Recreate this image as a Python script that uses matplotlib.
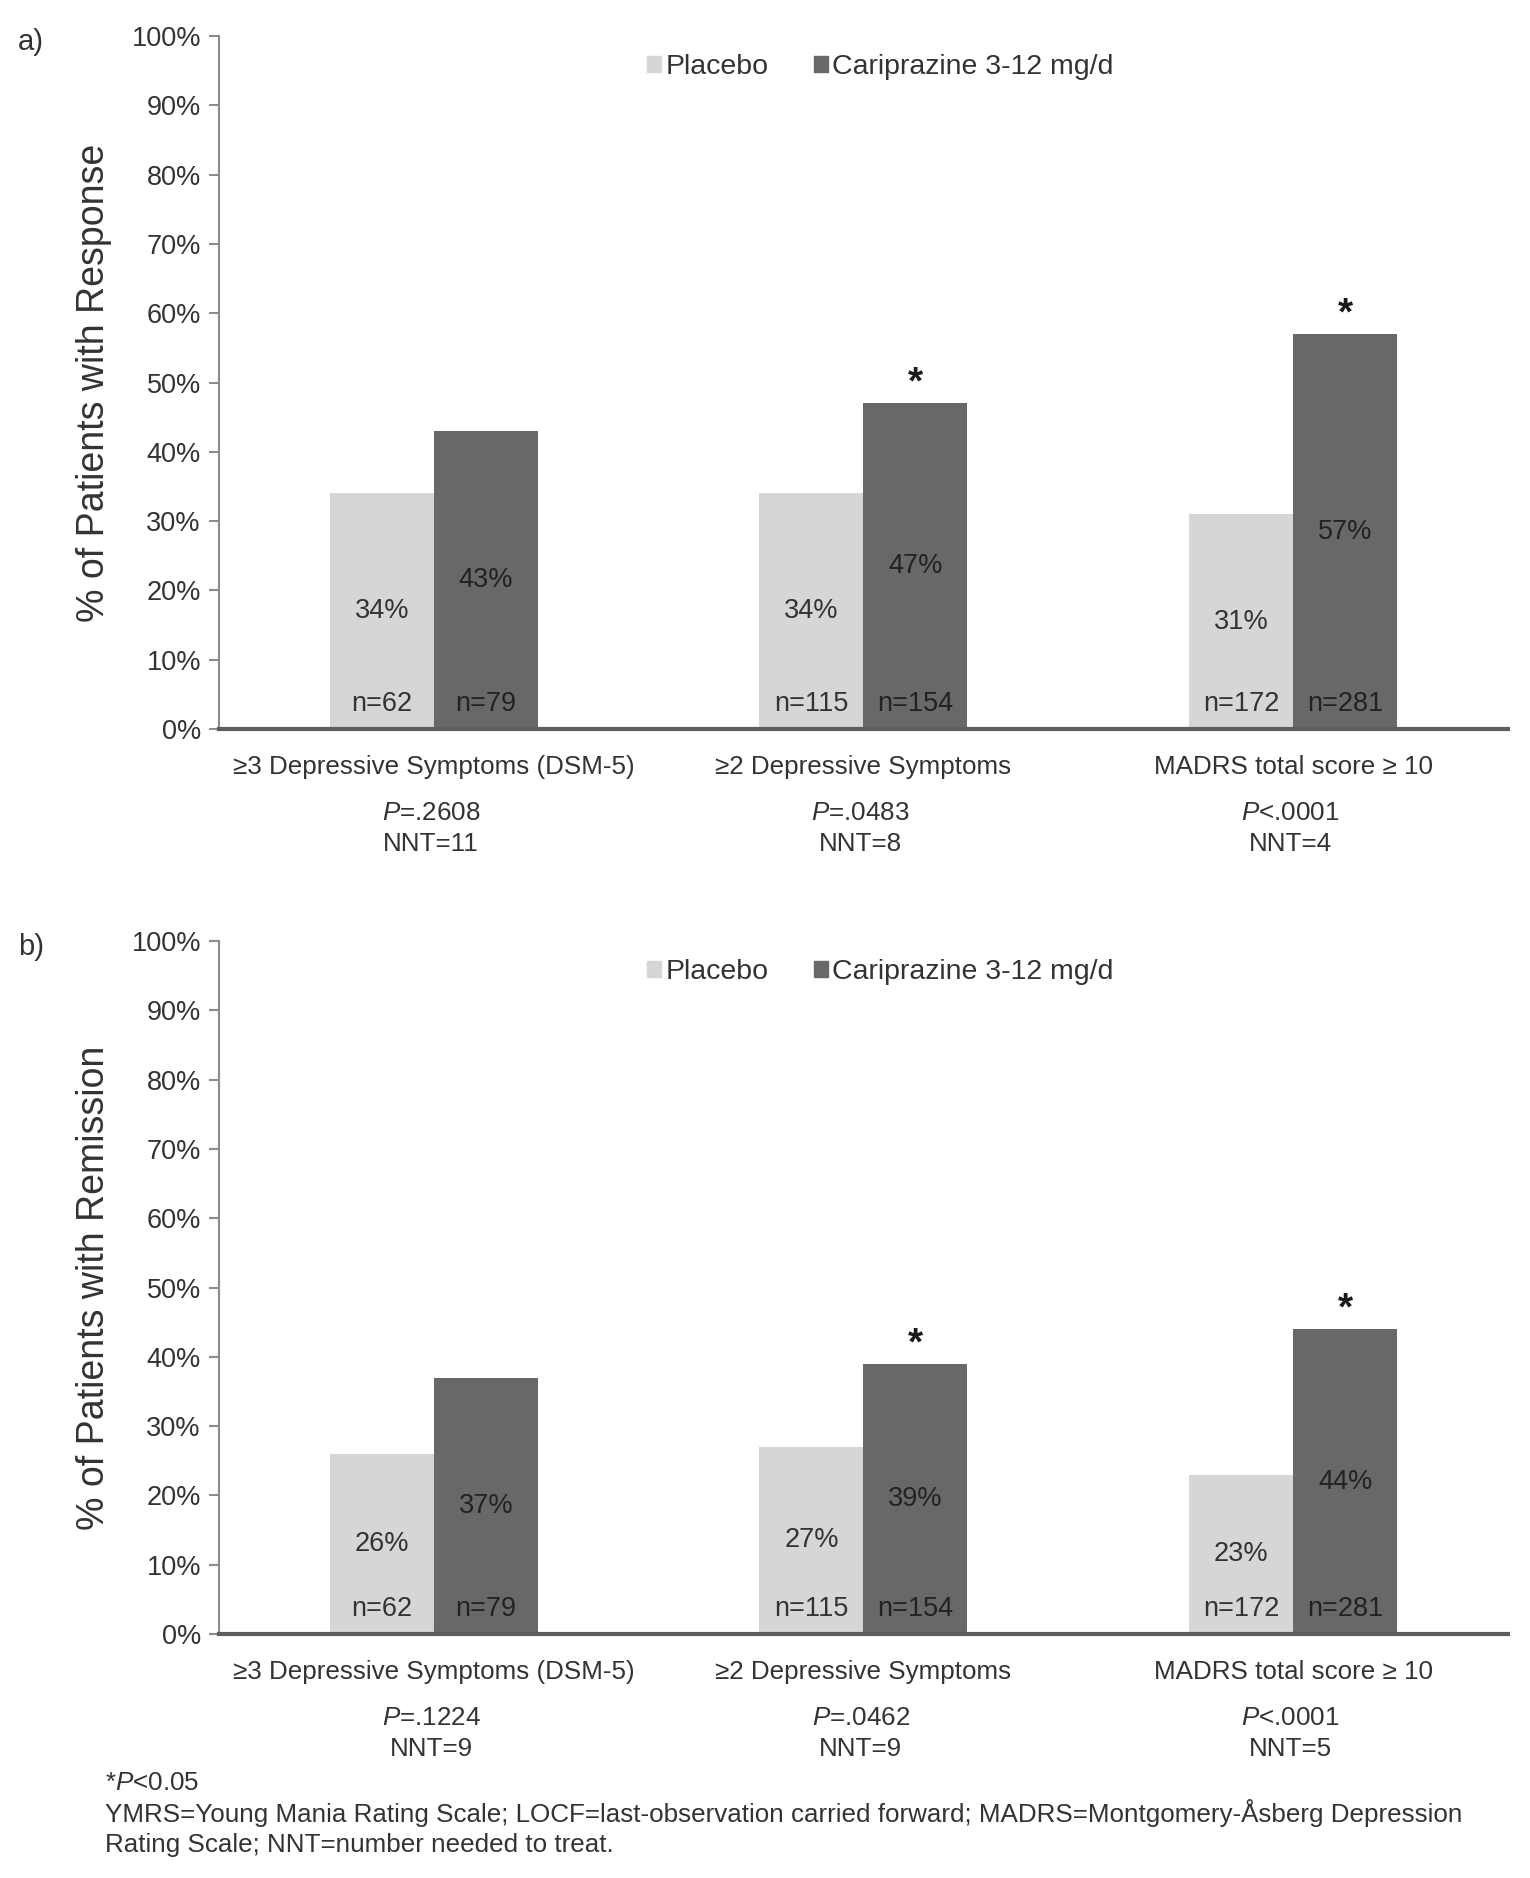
import matplotlib
matplotlib.use("Agg")
import matplotlib.pyplot as plt
from matplotlib.patches import Patch
import numpy as np

plt.rcParams['font.family'] = ['Liberation Sans', 'DejaVu Sans']
plt.rcParams['mathtext.fontset'] = 'custom'
plt.rcParams['mathtext.rm'] = 'Liberation Sans'
plt.rcParams['mathtext.it'] = 'Liberation Sans:italic'

# data
categories = ["≥3 Depressive Symptoms (DSM-5)", "≥2 Depressive Symptoms", "MADRS total score ≥ 10"]
n_placebo = [62, 115, 172]
n_drug = [79, 154, 281]

resp_placebo = [34, 34, 31]
resp_drug = [43, 47, 57]
resp_p = ["=.2608", "=.0483", "<.0001"]
resp_nnt = [11, 8, 4]
resp_sig = [False, True, True]

rem_placebo = [26, 27, 23]
rem_drug = [37, 39, 44]
rem_p = ["=.1224", "=.0462", "<.0001"]
rem_nnt = [9, 9, 5]
rem_sig = [False, True, True]

c_plac = '#d6d6d6'
c_drug = '#686868'
tc = '#333333'
fs = 18.7

fig = plt.figure(figsize=(15.3, 18.78), dpi=100)
ax_a = fig.add_axes([0.1431, 0.6118, 0.8425, 0.369])
ax_b = fig.add_axes([0.1431, 0.1299, 0.8425, 0.369])


def draw(ax, plac, drug, pvals, nnts, sig, ylabel, tag):
    x = np.arange(len(categories))
    w = 0.242
    ax.bar(x - w / 2, plac, w, color=c_plac, zorder=2)
    ax.bar(x + w / 2, drug, w, color=c_drug, zorder=2)
    for i in range(len(x)):
        ax.text(x[i] - w / 2, plac[i] / 2, f"{plac[i]}%", ha='center', va='center', fontsize=19.5, color=tc)
        ax.text(x[i] + w / 2, drug[i] / 2, f"{drug[i]}%", ha='center', va='center', fontsize=19.5, color='#222222')
        ax.text(x[i] - w / 2, 3.6, f"n={n_placebo[i]}", ha='center', va='center', fontsize=19.5, color=tc)
        ax.text(x[i] + w / 2, 3.6, f"n={n_drug[i]}", ha='center', va='center', fontsize=19.5, color='#222222')
        if sig[i]:
            ax.text(x[i] + w / 2, drug[i] + 2.8, "*", ha='center', va='center', fontsize=28, color='#1a1a1a', fontweight='bold')
        ax.annotate(categories[i], xy=(x[i], 0), xycoords=('data', 'axes fraction'),
                    xytext=(0, -27), textcoords='offset points', ha='center', va='center', fontsize=fs, color=tc)
        ax.annotate(r"$\it{P}$" + pvals[i], xy=(x[i], 0), xycoords=('data', 'axes fraction'),
                    xytext=(-2, -60.5), textcoords='offset points', ha='center', va='center', fontsize=fs, color=tc)
        ax.annotate(f"NNT={nnts[i]}", xy=(x[i], 0), xycoords=('data', 'axes fraction'),
                    xytext=(-2, -83), textcoords='offset points', ha='center', va='center', fontsize=fs, color=tc)

    ax.set_xlim(-0.5, 2.5)
    ax.set_ylim(0, 100)
    ax.set_yticks(range(0, 101, 10))
    ax.set_yticklabels([f"{v}%" for v in range(0, 101, 10)], fontsize=19.5, color=tc)
    ax.set_xticks([])
    ax.tick_params(axis='y', length=7, width=1.5, color='#8c8c8c', pad=6)
    for s in ['top', 'right']:
        ax.spines[s].set_visible(False)
    ax.spines['left'].set_color('#8c8c8c')
    ax.spines['left'].set_linewidth(1.5)
    ax.spines['bottom'].set_color('#5e5e5e')
    ax.spines['bottom'].set_linewidth(3)
    ax.set_ylabel(ylabel, fontsize=27, color=tc, labelpad=14)

    handles = [Patch(color=c_plac, label='Placebo'), Patch(color=c_drug, label='Cariprazine 3-12 mg/d')]
    ax.legend(handles=handles, loc='center', bbox_to_anchor=(0.513, 0.955), ncol=2, frameon=False,
              fontsize=20.5, handlelength=0.5, handleheight=0.5, handletextpad=0.15, columnspacing=1.6,
              labelcolor=tc)
    ax.text(-0.156, 0.991, tag, transform=ax.transAxes, fontsize=21, color=tc, ha='left', va='center')


draw(ax_a, resp_placebo, resp_drug, resp_p, resp_nnt, resp_sig, "% of Patients with Response", "a)")
draw(ax_b, rem_placebo, rem_drug, rem_p, rem_nnt, rem_sig, "% of Patients with Remission", "b)")

fig.text(0.0686, 1 - 1783 / 1878, r"*$\it{P}$<0.05", fontsize=fs, color=tc, ha='left', va='center')
fig.text(0.0686, 1 - 1813 / 1878,
         "YMRS=Young Mania Rating Scale; LOCF=last-observation carried forward; MADRS=Montgomery-Åsberg Depression",
         fontsize=fs, color=tc, ha='left', va='center')
fig.text(0.0686, 1 - 1845 / 1878, "Rating Scale; NNT=number needed to treat.",
         fontsize=fs, color=tc, ha='left', va='center')

fig.savefig("out.png", dpi=100)
